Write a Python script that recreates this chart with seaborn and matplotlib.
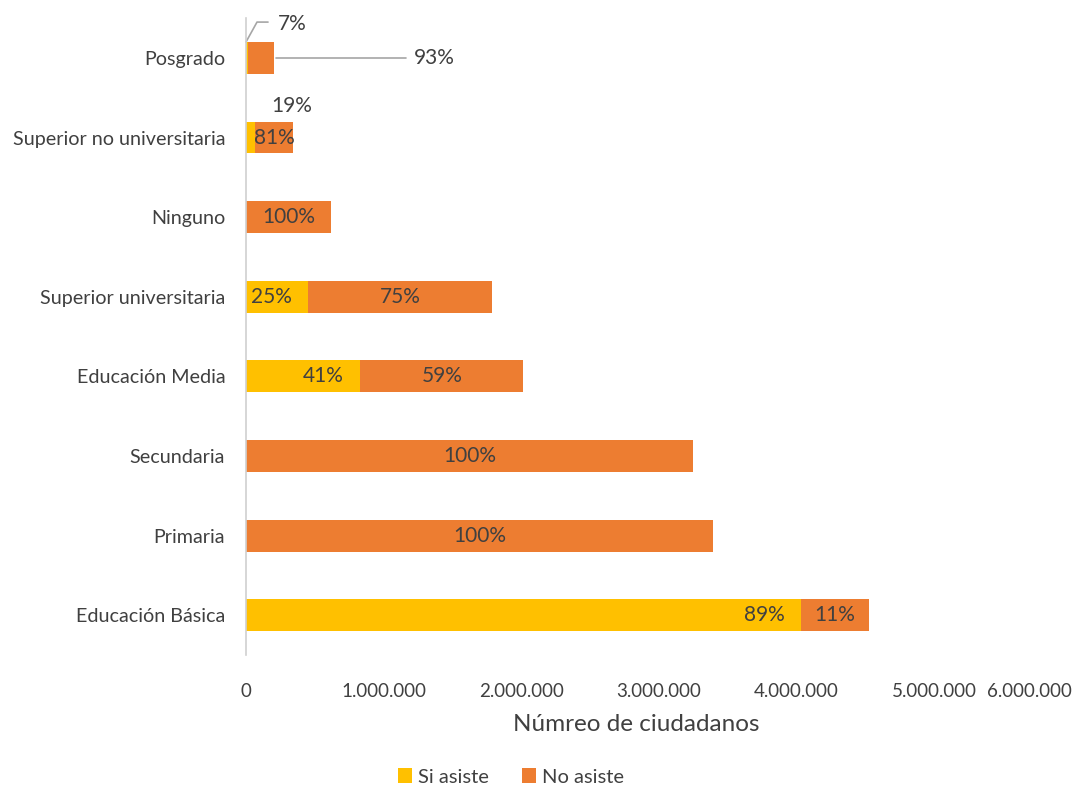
import matplotlib
matplotlib.use("Agg")
import matplotlib.pyplot as plt
import seaborn as sns
import pandas as pd

categories = ["Posgrado", "Superior no universitaria", "Ninguno", "Superior universitaria",
              "Educación Media", "Secundaria", "Primaria", "Educación Básica"]
si_asiste = [14000, 65000, 0, 450000, 830000, 0, 0, 4035000]
no_asiste = [186000, 275000, 620000, 1340000, 1185000, 3250000, 3390000, 490000]
si_labels = ["7%", "19%", "", "25%", "41%", "", "", "89%"]
no_labels = ["93%", "81%", "100%", "75%", "59%", "100%", "100%", "11%"]
xticks = [0, 1000000, 2000000, 3000000, 4000000, 5000000, 6000000]
xtick_labels = ["0", "1.000.000", "2.000.000", "3.000.000", "4.000.000", "5.000.000", "6.000.000"]

YELLOW = "#FFC000"
ORANGE = "#ED7D31"
TXT = "#404040"

sns.set_theme(style="white")
plt.rcParams["font.family"] = ["Lato", "DejaVu Sans"]

df = pd.DataFrame({"cat": categories, "si": si_asiste, "no": no_asiste})
df["total"] = df["si"] + df["no"]

fig = plt.figure(figsize=(10.78, 7.87), dpi=100)
ax = fig.add_axes([0.2282, 0.1677, 0.7662, 0.8093])

sns.barplot(data=df, x="total", y="cat", color=ORANGE, width=0.4, ax=ax,
            saturation=1, edgecolor="none", label="No asiste")
sns.barplot(data=df, x="si", y="cat", color=YELLOW, width=0.4, ax=ax,
            saturation=1, edgecolor="none", label="Si asiste")

handles, labels = ax.get_legend_handles_labels()
if ax.get_legend() is not None:
    ax.get_legend().remove()

ax.set_xlim(0, 6000000)
ax.set_ylim(7.5, -0.5)
ax.set_xticks(xticks)
ax.set_xticklabels(xtick_labels)
ax.tick_params(axis="x", length=0, colors=TXT, labelsize=13.5, pad=20)
ax.tick_params(axis="y", length=0, colors=TXT, labelsize=14.2, pad=15)
for lab in ax.get_xticklabels()[-1:]:
    lab.set_ha("right")
ax.set_ylabel("")
ax.set_xlabel("Númreo de ciudadanos", fontsize=17.5, color=TXT)
ax.xaxis.set_label_coords((636 - 246) / 826, -0.093)
for s in ["top", "right", "bottom"]:
    ax.spines[s].set_visible(False)
ax.spines["left"].set_color("#D0D0D0")
ax.spines["left"].set_linewidth(1.2)

fs = 15
for i, cat in enumerate(categories):
    si = si_asiste[i]
    no = no_asiste[i]
    tot = si + no
    if cat == "Posgrado":
        ax.plot([0, 80000, 160000], [-0.2, -0.45, -0.45], color="#A6A6A6", lw=1.2, clip_on=False)
        ax.text(230000, -0.43, si_labels[i], ha="left", va="center", fontsize=fs, color=TXT)
        ax.plot([tot + 15000, 1160000], [0, 0], color="#A6A6A6", lw=1.2)
        ax.text(1220000, 0, no_labels[i], ha="left", va="center", fontsize=fs, color=TXT)
        continue
    if cat == "Superior no universitaria":
        ax.text(330000, -0.4 + i, si_labels[i], ha="center", va="center", fontsize=fs, color=TXT)
        ax.text(si + no / 2, i, no_labels[i], ha="center", va="center", fontsize=fs, color=TXT)
        continue
    if si_labels[i]:
        ax.text(si - 120000, i, si_labels[i], ha="right", va="center", fontsize=fs, color=TXT)
    ax.text(si + no / 2, i, no_labels[i], ha="center", va="center", fontsize=fs, color=TXT)

order = [labels.index("Si asiste"), labels.index("No asiste")]
leg = fig.legend([handles[k] for k in order], [labels[k] for k in order],
                 loc="center", bbox_to_anchor=(511 / 1078, 1 - 777 / 787), ncol=2, frameon=False,
                 fontsize=14.5, handlelength=0.7, handleheight=0.7, handletextpad=0.3,
                 columnspacing=1.6, labelcolor=TXT)

fig.savefig("out.png", dpi=100)
